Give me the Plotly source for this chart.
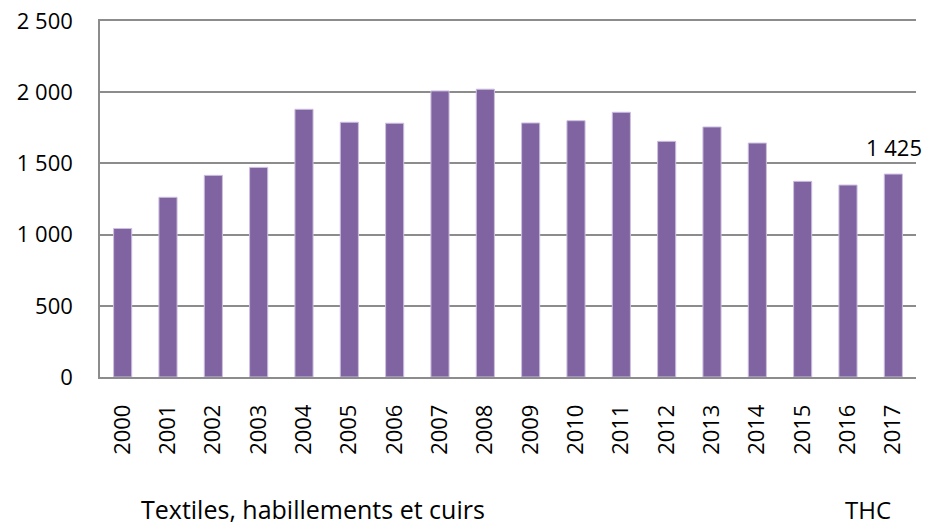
import plotly.graph_objects as go

# Annual values, textiles / clothing / leather sector
years = ["2000", "2001", "2002", "2003", "2004", "2005", "2006", "2007", "2008",
         "2009", "2010", "2011", "2012", "2013", "2014", "2015", "2016", "2017"]
values = [1043, 1262, 1416, 1472, 1880, 1789, 1782, 2009, 2021,
          1784, 1800, 1859, 1655, 1756, 1643, 1374, 1348, 1425]
y_ticks = [0, 500, 1000, 1500, 2000, 2500]
y_tick_text = ["0", "500", "1 000", "1 500", "2 000", "2 500"]
sector_label = "Textiles, habillements et cuirs"
unit_label = "THC"

FONT = "Open Sans"
BAR = "#8064A2"
GRID = "#8c8c8c"


def fr_number(v):
    return f"{v:,}".replace(",", " ")


fig = go.Figure()
fig.add_trace(go.Bar(
    x=years,
    y=values,
    marker=dict(color=BAR, line=dict(color="#cdbfe0", width=1)),
    width=0.4,
    hoverinfo="x+y",
))

# value label above the latest bar (category axis: position by index)
last = len(years) - 1
fig.add_annotation(
    x=last, y=values[last], text=fr_number(values[last]),
    showarrow=False, yanchor="bottom", yshift=10, xshift=1,
    font=dict(family=FONT, size=22, color="#000000"),
)

fig.add_annotation(
    xref="paper", yref="paper", x=0.048, y=-0.371, xanchor="left", yanchor="middle",
    text=sector_label, showarrow=False,
    font=dict(family=FONT, size=25, color="#000000"),
)
fig.add_annotation(
    xref="paper", yref="paper", x=0.941, y=-0.371, xanchor="center", yanchor="middle",
    text=unit_label, showarrow=False,
    font=dict(family=FONT, size=24, color="#000000"),
)

fig.update_layout(
    width=927, height=527,
    margin=dict(l=100, r=11, t=21, b=150),
    paper_bgcolor="white", plot_bgcolor="white",
    showlegend=False,
    font=dict(family=FONT, size=22, color="#000000"),
    xaxis=dict(
        type="category",
        tickangle=-90,
        showgrid=False,
        showline=True, linecolor=GRID, linewidth=1.5, mirror=True,
        ticks="", ticklabelstandoff=17,
        tickfont=dict(family=FONT, size=22),
        range=[-0.5, len(years) - 0.5],
        automargin=False,
    ),
    yaxis=dict(
        range=[0, 2500],
        tickvals=y_ticks, ticktext=y_tick_text,
        showgrid=True, gridcolor=GRID, gridwidth=1.5,
        showline=True, linecolor=GRID, linewidth=1.5,
        zeroline=False,
        ticks="", ticklabelstandoff=21,
        tickfont=dict(family=FONT, size=22),
        automargin=False,
    ),
)

fig.write_html("out.html")
